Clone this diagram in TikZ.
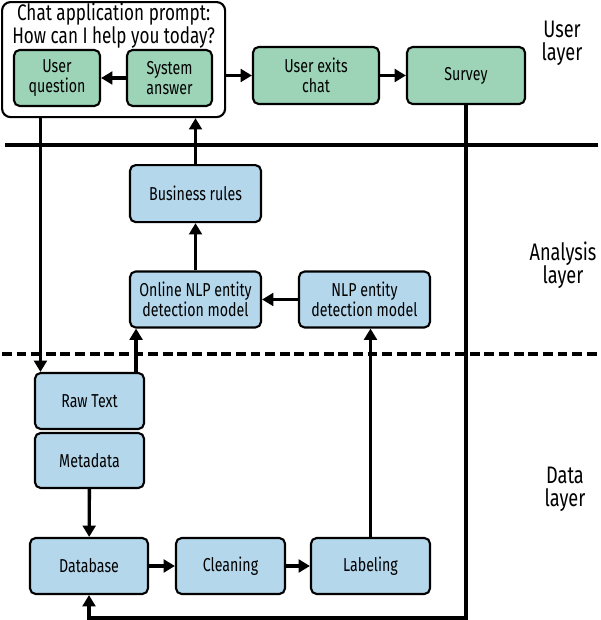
\documentclass[tikz,border=0pt]{standalone}
\usepackage{fontspec}
\setmainfont{Fira Sans}[FakeStretch=0.76]
\usepackage{xcolor}
\usepackage{tikz}
\usetikzlibrary{arrows.meta,positioning,calc}

\definecolor{usergreen}{HTML}{9DD4B8}
\definecolor{datablue}{HTML}{B4D7EB}

\tikzset{
    box/.style={draw, line width=1.5pt, rounded corners=4pt, align=center,
        inner sep=2pt, font=\fontsize{13.3}{14.4}\selectfont},
    userbox/.style={box, fill=usergreen},
    databox/.style={box, fill=datablue},
    arr/.style={line width=2.4pt, -{Triangle[length=8pt,width=9pt]}},
    layername/.style={align=center, font=\fontsize{17}{16.5}\selectfont},
}

\begin{document}
\begin{tikzpicture}
    \useasboundingbox (0,0) rectangle (15,15.5);

    % Layer borders
    \draw[line width=2.8pt] (0.125,11.875) -- (14.95,11.875);
    \draw[line width=2.8pt, dash pattern=on 7pt off 3.4pt] (0.05,6.65) -- (15,6.65);

    % User layer
    \node[draw, line width=1.5pt, rounded corners=6pt, fill=white,
        minimum width=5.575cm, minimum height=2.875cm] (chat) at (2.84,14.01) {};
    \node[align=center, font=\fontsize{16}{15}\selectfont] (title) at (2.84,14.86)
        {Chat application prompt:\\How can I help you today?};
    \node[userbox, minimum width=2.15cm, minimum height=1.4cm] (question) at (1.425,13.55) {User\\question};
    \node[userbox, minimum width=2.125cm, minimum height=1.4cm] (answer) at (4.2375,13.55) {System\\answer};
    \node[userbox, minimum width=3.15cm, minimum height=1.425cm] (exits) at (7.9,13.6125) {User exits\\chat};
    \node[userbox, minimum width=2.95cm, minimum height=1.425cm] (survey) at (11.65,13.6125) {Survey};
    \node[layername] (userlayer) at (14.05,14.425) {User\\layer};

    % Analysis layer
    \node[databox, minimum width=3.275cm, minimum height=1.425cm] (rules) at (4.8875,10.66) {Business rules};
    \node[databox, minimum width=3.275cm, minimum height=1.4cm] (online) at (4.8875,8.0125) {Online NLP entity\\detection model};
    \node[databox, minimum width=3.275cm, minimum height=1.4cm] (nlp) at (9.1125,8.0125) {NLP entity\\detection model};
    \node[layername] (analysislayer) at (14.075,8.875) {Analysis\\layer};

    % Data layer
    \node[databox, minimum width=2.725cm, minimum height=1.4cm] (raw) at (2.2375,5.475) {Raw Text};
    \node[databox, minimum width=2.725cm, minimum height=1.375cm] (meta) at (2.2375,3.9875) {Metadata};
    \node[databox, minimum width=2.95cm, minimum height=1.4cm] (db) at (2.225,1.35) {Database};
    \node[databox, minimum width=2.725cm, minimum height=1.4cm] (clean) at (5.7625,1.35) {Cleaning};
    \node[databox, minimum width=2.975cm, minimum height=1.4cm] (label) at (9.2625,1.35) {Labeling};
    \node[layername] (datalayer) at (14.125,3.275) {Data\\layer};

    \coordinate (qin) at ($(raw.north west)+(0.1625,0)$);
    \coordinate (rawout) at ($(raw.north east)+(-0.225,0)$);
    \coordinate (bottom) at (0,0.05);

    % Arrows
    \draw[arr] (answer) -- (question);
    \draw[arr] (chat.east |- exits) -- (exits);
    \draw[arr] (exits) -- (survey);
    \draw[arr] (qin |- chat.south) -- (qin);
    \draw[arr] (rules.north) -- (rules.north |- chat.south);
    \draw[arr] (online) -- (rules);
    \draw[arr] (nlp) -- (online);
    \draw[arr] (rawout) -- (rawout |- online.south);
    \draw[arr] (label.north) -- (label.north |- nlp.south);
    \draw[arr] (meta) -- (db);
    \draw[arr] (db) -- (clean);
    \draw[arr] (clean) -- (label);
    \draw[arr] (survey.south) -- (survey.south |- bottom) -| (db.south);
\end{tikzpicture}
\end{document}
